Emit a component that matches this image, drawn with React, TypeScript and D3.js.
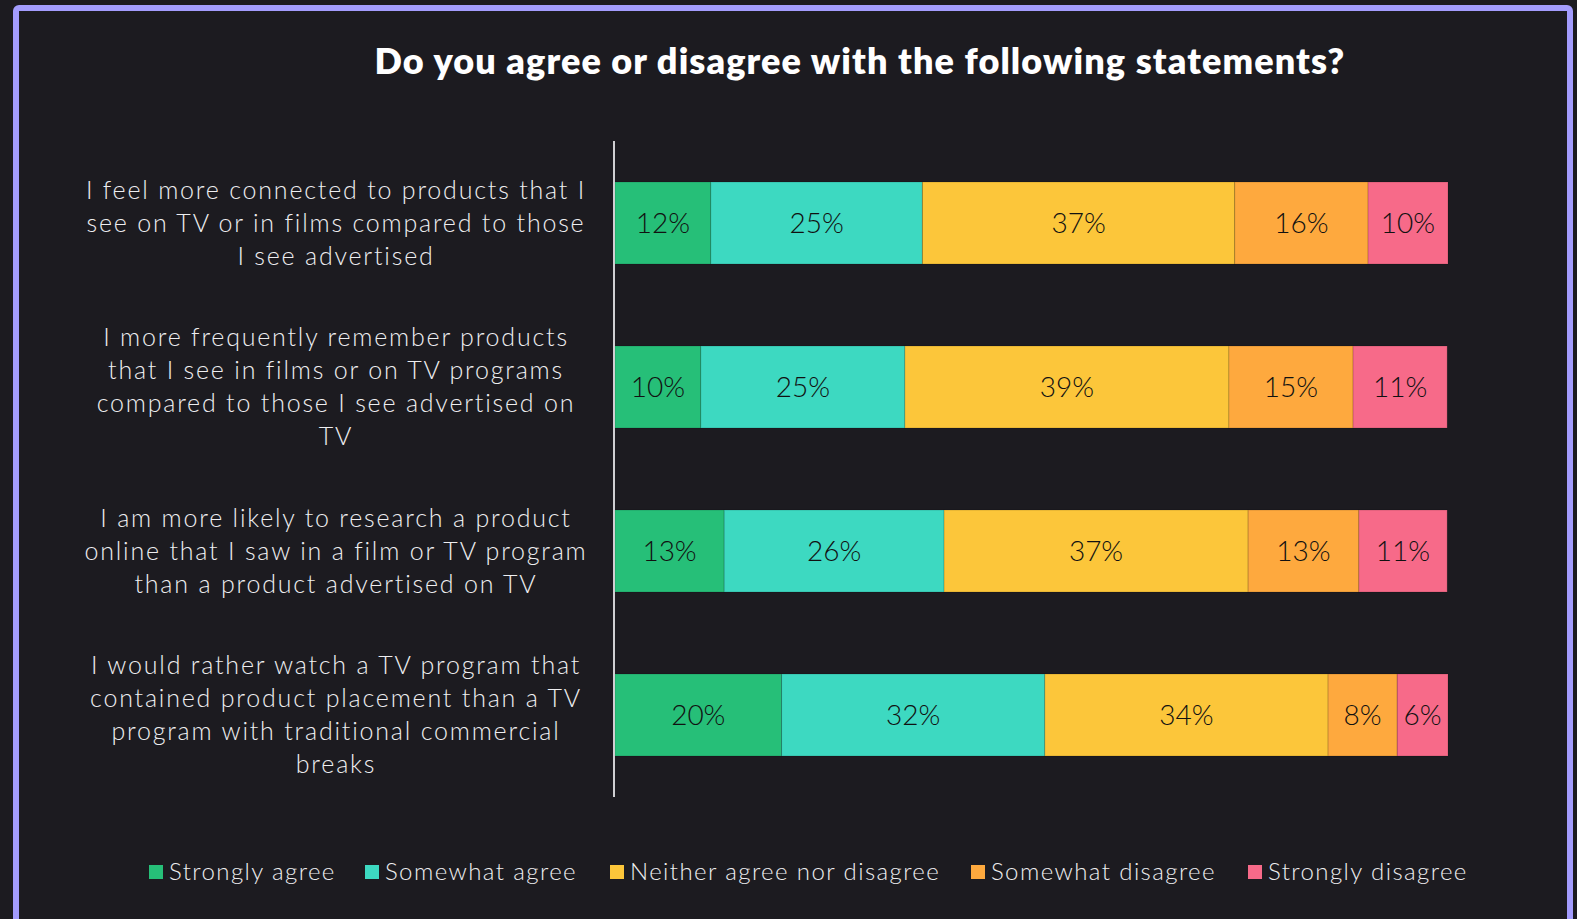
import React from "react";
import * as d3 from "d3";

const TITLE = "Do you agree or disagree with the following statements?";

const categories = [
  "I feel more connected to products that I|see on TV or in films compared to those|I see advertised",
  "I more frequently remember products|that I see in films or on TV programs|compared to those I see advertised on|TV",
  "I am more likely to research a product|online that I saw in a film or TV program|than a product advertised on TV",
  "I would rather watch a TV program that|contained product placement than a TV|program with traditional commercial|breaks",
];

const seriesNames = [
  "Strongly agree",
  "Somewhat agree",
  "Neither agree nor disagree",
  "Somewhat disagree",
  "Strongly disagree",
];

// values per series, one per category (percent)
const stronglyAgree = [11.5, 10.3, 13.1, 20.0];
const somewhatAgree = [25.4, 24.5, 26.4, 31.6];
const neither = [37.5, 38.9, 36.5, 34.0];
const somewhatDisagree = [16.0, 14.9, 13.3, 8.3];
const stronglyDisagree = [9.6, 11.3, 10.6, 6.1];

// labels shown on the bars
const labelsStronglyAgree = ["12%", "10%", "13%", "20%"];
const labelsSomewhatAgree = ["25%", "25%", "26%", "32%"];
const labelsNeither = ["37%", "39%", "37%", "34%"];
const labelsSomewhatDisagree = ["16%", "15%", "13%", "8%"];
const labelsStronglyDisagree = ["10%", "11%", "11%", "6%"];

const colors = ["#26bf78", "#3dd9c1", "#fcc63a", "#fea93e", "#f76a89"];

const W = 1577;
const H = 919;

export default function App() {
  const series = [stronglyAgree, somewhatAgree, neither, somewhatDisagree, stronglyDisagree];
  const labels = [labelsStronglyAgree, labelsSomewhatAgree, labelsNeither, labelsSomewhatDisagree, labelsStronglyDisagree];

  const rows = categories.map((c, i) => {
    const r: any = { cat: c };
    seriesNames.forEach((s, j) => (r[s] = series[j][i]));
    return r;
  });
  const stacked = d3.stack<any>().keys(seriesNames)(rows);

  const x = d3.scaleLinear().domain([0, 100]).range([615, 1448]);
  const y = d3
    .scaleBand<string>()
    .domain(categories)
    .range([141, 797])
    .paddingInner(0.5)
    .paddingOuter(0.25);

  const legendX = [149, 365, 610, 971, 1248];

  return (
    <svg
      width={W}
      height={H}
      style={{ position: "absolute", left: 0, top: 0, background: "#1c1b20" }}
    >
      <rect x={0} y={0} width={W} height={H} fill="#1c1b20" />
      <rect
        x={16}
        y={8}
        width={1554}
        height={H + 20}
        rx={3}
        fill="#1c1b20"
        stroke="#a39cfd"
        strokeWidth={6}
      />
      <text
        x={860}
        y={74}
        textAnchor="middle"
        fill="#ffffff"
        fontFamily="Lato"
        fontWeight={800}
        fontSize={36}
        letterSpacing={1.1}
      >
        {TITLE}
      </text>

      {/* category labels */}
      {categories.map((c) => {
        const lines = c.split("|");
        const cy = (y(c) as number) + y.bandwidth() / 2;
        const lh = 33;
        const y0 = cy - ((lines.length - 1) * lh) / 2;
        return (
          <text
            key={c}
            textAnchor="middle"
            fill="#eeeef0"
            fontFamily="Lato"
            fontWeight={300}
            fontSize={25}
            letterSpacing={1.8}
          >
            {lines.map((l, k) => (
              <tspan key={k} x={336} y={y0 + k * lh} dy="0.35em">
                {l}
              </tspan>
            ))}
          </text>
        );
      })}

      {/* bars */}
      {stacked.map((s, j) => (
        <g key={s.key}>
          {s.map((d, i) => {
            const cat = categories[i];
            const x0 = x(d[0]);
            const x1 = x(d[1]);
            const by = y(cat) as number;
            return (
              <g key={cat}>
                <rect
                  x={x0}
                  y={by}
                  width={x1 - x0}
                  height={y.bandwidth()}
                  fill={colors[j]}
                  stroke="rgba(0,0,0,0.15)"
                  strokeWidth={1}
                />
                <text
                  x={(x0 + x1) / 2}
                  y={by + y.bandwidth() / 2}
                  dy="0.36em"
                  textAnchor="middle"
                  fill="#111111"
                  fontFamily="Lato"
                  fontWeight={300}
                  fontSize={28}
                >
                  {labels[j][i]}
                </text>
              </g>
            );
          })}
        </g>
      ))}

      {/* axis line */}
      <line x1={614} x2={614} y1={141} y2={797} stroke="#cfcfd2" strokeWidth={2} />

      {/* legend */}
      {seriesNames.map((s, j) => (
        <g key={s} transform={`translate(${legendX[j]},872)`}>
          <rect x={0} y={-7} width={14} height={14} fill={colors[j]} />
          <text
            x={20}
            y={0}
            dy="0.35em"
            fill="#eeeef0"
            fontFamily="Lato"
            fontWeight={300}
            fontSize={24}
            letterSpacing={1.4}
          >
            {s}
          </text>
        </g>
      ))}
    </svg>
  );
}
